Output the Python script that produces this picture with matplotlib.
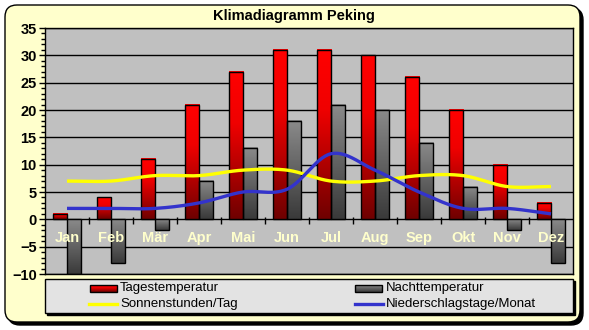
import numpy as np
import matplotlib
matplotlib.use("Agg")
import matplotlib.pyplot as plt
from matplotlib.patches import FancyBboxPatch, Rectangle
from matplotlib.colors import LinearSegmentedColormap
from matplotlib.lines import Line2D

# ---- data ----
months = ["Jan", "Feb", "Mär", "Apr", "Mai", "Jun", "Jul", "Aug", "Sep", "Okt", "Nov", "Dez"]
tages_temp = [1, 4, 11, 21, 27, 31, 31, 30, 26, 20, 10, 3]
nacht_temp = [-10, -8, -2, 7, 13, 18, 21, 20, 14, 6, -2, -8]
sonnen = [7, 7, 8, 8, 9, 9, 7, 7, 8, 8, 6, 6]
niederschlag = [2, 2, 2, 3, 5, 5.5, 12, 9, 5, 2, 2, 1]
y_ticks = [-10, -5, 0, 5, 10, 15, 20, 25, 30, 35]

W, H = 589, 330
FONT_B = ["Liberation Sans Narrow", "Liberation Sans", "DejaVu Sans"]
FONT_R = ["Liberation Sans", "DejaVu Sans"]

red_cmap = LinearSegmentedColormap.from_list(
    "redgrad", [(0.0, "#FF0000"), (0.35, "#F00000"), (1.0, "#700000")])
gray_cmap = LinearSegmentedColormap.from_list("graygrad", ["#8A8A8A", "#3A3A3A"])


def smooth(xs, ys, n=30):
    """Catmull-Rom curve through the points, like a smoothed line chart."""
    xs = np.asarray(xs, float)
    ys = np.asarray(ys, float)
    P = np.column_stack([xs, ys])
    P = np.vstack([P[0] - (P[1] - P[0]), P, P[-1] + (P[-1] - P[-2])])
    out = []
    for i in range(1, len(P) - 2):
        p0, p1, p2, p3 = P[i - 1], P[i], P[i + 1], P[i + 2]
        t = np.linspace(0, 1, n, endpoint=False)[:, None]
        seg = 0.5 * ((2 * p1) + (-p0 + p2) * t + (2 * p0 - 5 * p1 + 4 * p2 - p3) * t ** 2
                     + (-p0 + 3 * p1 - 3 * p2 + p3) * t ** 3)
        out.append(seg)
    out.append(P[-2][None, :])
    out = np.vstack(out)
    return out[:, 0], out[:, 1]


fig = plt.figure(figsize=(W / 100, H / 100), dpi=100)
fig.patch.set_facecolor("white")

# ---- background frame (pixel coordinates) ----
bg = fig.add_axes([0, 0, 1, 1], zorder=0)
bg.set_xlim(0, W)
bg.set_ylim(H, 0)
bg.axis("off")

bx0, by0, bx1, by1, r = 5, 5, 580, 322, 12
bg.add_patch(FancyBboxPatch((bx0 + r + 3, by0 + r + 3), (bx1 - bx0) - 2 * r, (by1 - by0) - 2 * r,
                            boxstyle=f"round,pad={r}", fc="black", ec="black", lw=1))
bg.add_patch(FancyBboxPatch((bx0 + r, by0 + r), (bx1 - bx0) - 2 * r, (by1 - by0) - 2 * r,
                            boxstyle=f"round,pad={r}", fc="#FFFFCC", ec="black", lw=1))

# legend box
lx0, ly0, lx1, ly1 = 45, 279, 573, 313
bg.add_patch(Rectangle((lx0 + 2, ly0 + 2), lx1 - lx0, ly1 - ly0, fc="black", ec="black", lw=1))
bg.add_patch(Rectangle((lx0, ly0), lx1 - lx0, ly1 - ly0, fc="#E3E3E3", ec="black", lw=1))

grad = np.linspace(0, 1, 64).reshape(-1, 1)


def legend_patch(x0, x1, y0, y1, cmap):
    bg.imshow(grad, extent=[x0, x1, y1, y0], cmap=cmap, aspect="auto", zorder=3,
              interpolation="bilinear")
    bg.add_patch(Rectangle((x0, y0), x1 - x0, y1 - y0, fc="none", ec="black", lw=1, zorder=4))


legend_patch(90, 117, 285, 292, red_cmap)
legend_patch(355, 382, 285, 292, gray_cmap)
bg.add_line(Line2D([89, 117], [303.5, 303.5], color="#FFFF00", lw=2.4, zorder=4))
bg.add_line(Line2D([355, 383], [303.5, 303.5], color="#3333CC", lw=2.4, zorder=4))
leg_kw = dict(fontsize=9.5, family=FONT_R, va="center", ha="left", color="black", zorder=5)
bg.text(120, 288.5, "Tagestemperatur", **leg_kw)
bg.text(120, 303.5, "Sonnenstunden/Tag", **leg_kw)
bg.text(386, 288.5, "Nachttemperatur", **leg_kw)
bg.text(386, 303.5, "Niederschlagstage/Monat", **leg_kw)
bg.set_xlim(0, W)
bg.set_ylim(H, 0)

bg.text(294, 16, "Klimadiagramm Peking", fontsize=10.5, family=FONT_B, fontweight="bold",
        ha="center", va="center", color="black")

# ---- main plot ----
ax = fig.add_axes([45 / W, (H - 274) / H, 528 / W, 246 / H], zorder=1)
ax.set_facecolor("#C0C0C0")

x = np.arange(len(months))
bw = 0.32
for i in range(len(months)):
    for val, off, cmap in ((tages_temp[i], -bw / 2, red_cmap), (nacht_temp[i], bw / 2, gray_cmap)):
        lo, hi = min(0, val), max(0, val)
        x0 = x[i] + off - bw / 2
        ax.imshow(grad, extent=[x0, x0 + bw, lo, hi], cmap=cmap, aspect="auto", zorder=2,
                  interpolation="bilinear")
        ax.add_patch(Rectangle((x0, lo), bw, hi - lo, fc="none", ec="black", lw=1, zorder=2.5))

sx, sy = smooth(x, sonnen)
ax.plot(sx, sy, color="#FFFF00", lw=2.4, zorder=3, solid_capstyle="butt")
nx, ny = smooth(x, niederschlag)
ax.plot(nx, ny, color="#3333CC", lw=2.4, zorder=3.5, solid_capstyle="butt")

# category ticks on the zero line
ax.vlines(np.arange(0.5, 11.5, 1), -0.9, 0.5, color="black", lw=1, zorder=1.5)
for i, m in enumerate(months):
    ax.text(x[i], -3.5, m, ha="center", va="center", fontsize=10.5, family=FONT_B,
            fontweight="bold", color="#FFFFCC", zorder=4)

ax.set_xlim(-0.5, 11.5)
ax.set_ylim(-10, 35)
ax.set_xticks([])
ax.set_yticks(y_ticks)
ax.set_yticks(np.arange(-10, 36, 1), minor=True)
ax.yaxis.grid(True, which="major", color="black", lw=1)
ax.set_axisbelow(True)
ax.tick_params(axis="y", which="major", length=4, width=1, direction="out", pad=2,
               labelsize=10.5)
ax.tick_params(axis="y", which="minor", length=3, width=1, direction="out")
for lbl in ax.get_yticklabels():
    lbl.set_fontfamily(FONT_B)
    lbl.set_fontweight("bold")
for s in ax.spines.values():
    s.set_color("black")
    s.set_linewidth(1)

fig.savefig("out.png", dpi=100)
